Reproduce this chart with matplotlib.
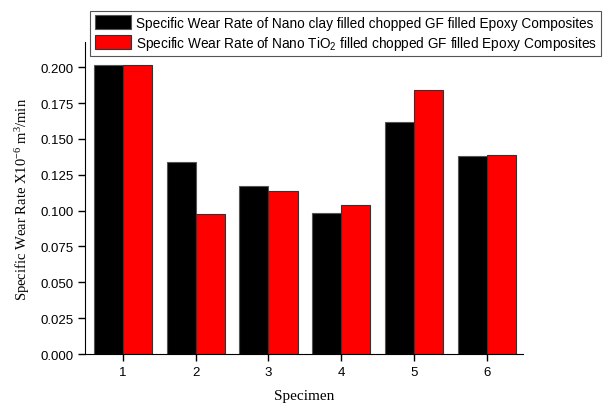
import numpy as np
import matplotlib
matplotlib.use("Agg")
import matplotlib.pyplot as plt

plt.rcParams['font.family'] = ['Liberation Sans', 'DejaVu Sans']
plt.rcParams['mathtext.default'] = 'regular'

specimens = [1, 2, 3, 4, 5, 6]
clay = [0.2015, 0.1338, 0.1175, 0.0985, 0.1615, 0.1382]
tio2 = [0.2015, 0.0975, 0.1140, 0.1040, 0.1840, 0.1390]
labels = ["Specific Wear Rate of Nano clay filled chopped GF filled Epoxy Composites",
          "Specific Wear Rate of Nano TiO$_2$ filled chopped GF filled Epoxy Composites"]

fig = plt.figure(figsize=(6.12, 4.10), dpi=100)
ax = fig.add_axes([0.139, 0.134, 0.716, 0.761])

x = np.array(specimens)
w = 0.4
b1 = ax.bar(x - w / 2, clay, w, color='black', edgecolor='#555555', linewidth=0.8, label=labels[0])
b2 = ax.bar(x + w / 2, tio2, w, color='red', edgecolor='#333333', linewidth=0.8, label=labels[1])

ax.set_xlim(0.48, 6.5)
ax.set_ylim(0, 0.2175)
ax.set_xticks(specimens)
ax.set_yticks(np.arange(0, 0.201, 0.025))
ax.yaxis.set_major_formatter(matplotlib.ticker.FormatStrFormatter('%.3f'))
ax.spines['top'].set_visible(False)
ax.spines['right'].set_visible(False)
ax.tick_params(direction='out', length=5, width=1, labelsize=9.5)

ax.set_xlabel("Specimen", family='Liberation Serif', fontsize=11, labelpad=8)
ax.set_ylabel("Specific Wear Rate X10$^{-6}$ m$^{3}$/min", family='Liberation Serif', fontsize=10.5, labelpad=6)

leg = fig.legend(handles=[b1, b2], loc='upper right', bbox_to_anchor=(601 / 612, 1 - 12 / 410),
                 fontsize=9.8, fancybox=False, edgecolor='#555555', framealpha=1,
                 handlelength=2.7, handleheight=1.2, handletextpad=0.35, borderpad=0.3,
                 labelspacing=0.3, borderaxespad=0)
leg.get_frame().set_linewidth(0.8)

fig.savefig("out.png", dpi=100)
